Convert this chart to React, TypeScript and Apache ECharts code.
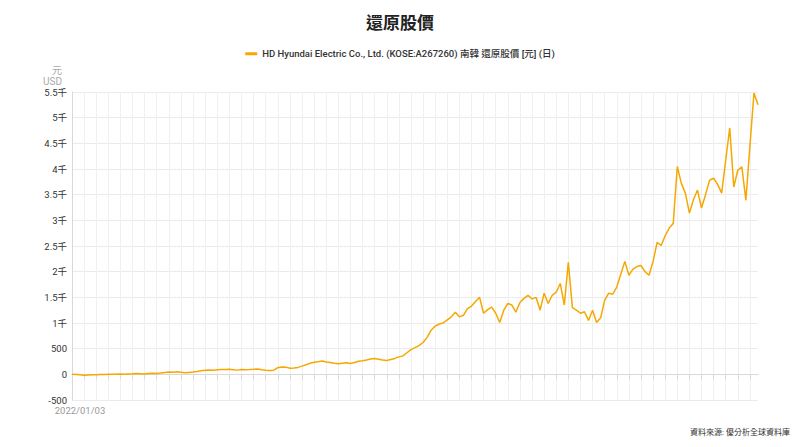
import React, { useEffect, useRef } from "react";
import * as echarts from "echarts";

const TITLE = "還原股價";
const SERIES_NAME = "HD Hyundai Electric Co., Ltd. (KOSE:A267260) 南韓 還原股價 [元] (日)";
const SOURCE = "資料來源: 優分析全球資料庫";
const LINE_COLOR = "#f5a800";

// weekly closes, starting 2022/01/03
const prices: number[] = [
  0, -5, -10, -20, -15, -10, -8, -5, -3, 0,
  0, 2, 5, 3, 8, 10, 15, 12, 5, 15,
  20, 18, 25, 35, 45, 40, 48, 42, 30, 38,
  45, 55, 70, 78, 85, 80, 88, 95, 92, 98,
  90, 82, 95, 88, 92, 98, 105, 90, 80, 75,
  80, 130, 145, 140, 120, 125, 135, 160, 185, 215,
  235, 245, 260, 240, 230, 215, 205, 215, 225, 210,
  230, 255, 265, 280, 300, 310, 295, 280, 270, 290,
  310, 340, 360, 420, 480, 520, 560, 620, 720, 860,
  940, 980, 1000, 1060, 1120, 1210, 1120, 1150, 1280, 1330,
  1420, 1500, 1190, 1260, 1310, 1190, 1010, 1250, 1380, 1350,
  1210, 1400, 1480, 1540, 1470, 1500, 1250, 1580, 1380, 1540,
  1600, 1770, 1350, 2180, 1300, 1250, 1190, 1220, 1050, 1250,
  1010, 1100, 1440, 1580, 1560, 1700, 1950, 2200, 1930, 2050,
  2100, 2120, 2000, 1930, 2200, 2570, 2510, 2700, 2850, 2940,
  4050, 3720, 3530, 3140, 3400, 3590, 3240, 3500, 3780, 3820,
  3700, 3530, 4170, 4800, 3650, 3980, 4040, 3390, 4450, 5480,
  5250,
];

const START = new Date(2022, 0, 3);
const dates: string[] = prices.map((_, i) => {
  const d = new Date(START.getTime() + i * 7 * 86400000);
  const mm = String(d.getMonth() + 1).padStart(2, "0");
  const dd = String(d.getDate()).padStart(2, "0");
  return `${d.getFullYear()}/${mm}/${dd}`;
});

const FONT = "Roboto, 'Noto Sans CJK TC', sans-serif";

export default function App() {
  const chartRef = useRef<HTMLDivElement>(null);

  useEffect(() => {
    if (!chartRef.current) return;
    const chart = echarts.init(chartRef.current, undefined, { renderer: "svg" });
    chart.setOption({
      animation: false,
      backgroundColor: "#fff",
      textStyle: { fontFamily: FONT },
      title: {
        text: TITLE,
        left: "center",
        top: 9,
        textStyle: { fontSize: 17, fontWeight: "bold", color: "#222", fontFamily: FONT },
      },
      legend: {
        top: 44,
        left: "center",
        itemWidth: 12,
        itemHeight: 3,
        itemGap: 6,
        icon: "rect",
        textStyle: { fontSize: 9.5, color: "#333", fontWeight: 500, fontFamily: FONT },
        data: [{ name: SERIES_NAME, itemStyle: { color: LINE_COLOR } }],
      },
      grid: { left: 72, right: 42, top: 92, bottom: 47 },
      xAxis: {
        type: "category",
        boundaryGap: false,
        data: dates,
        axisLine: { lineStyle: { color: "#d9d9d9" } },
        axisTick: { show: true, interval: 2, length: 5, lineStyle: { color: "#d9d9d9" } },
        axisLabel: {
          interval: 1000,
          color: "#999",
          fontSize: 9.5,
          margin: 6,
          padding: [0, 0, 0, 16],
        },
        splitLine: { show: true, interval: 2, lineStyle: { color: "#f0f0f0", width: 1 } },
      },
      yAxis: {
        type: "value",
        min: -500,
        max: 5500,
        interval: 500,
        name: "元\nUSD",
        nameLocation: "end",
        nameGap: 2,
        nameTextStyle: {
          align: "right",
          verticalAlign: "bottom",
          color: "#aaa",
          fontSize: 10,
          lineHeight: 11,
          padding: [0, 10, 0, 0],
        },
        axisLine: { show: true, lineStyle: { color: "#d9d9d9" } },
        axisTick: { show: false },
        axisLabel: {
          color: "#333",
          fontSize: 9.5,
          margin: 5,
          formatter: (v: number) => (v >= 1000 ? `${v / 1000}千` : `${v}`),
        },
        splitLine: { lineStyle: { color: "#ebebeb", width: 1 } },
      },
      series: [
        {
          name: SERIES_NAME,
          type: "line",
          data: prices,
          showSymbol: false,
          symbol: "none",
          lineStyle: { color: LINE_COLOR, width: 1.5 },
          itemStyle: { color: LINE_COLOR },
        },
      ],
      graphic: [
        {
          type: "text",
          right: 10,
          top: 428,
          style: { text: SOURCE, fill: "#333", font: `8px ${FONT}` },
        },
      ],
    });
    return () => chart.dispose();
  }, []);

  return (
    <div
      ref={chartRef}
      style={{ position: "absolute", left: 0, top: 0, width: 800, height: 447 }}
    />
  );
}
